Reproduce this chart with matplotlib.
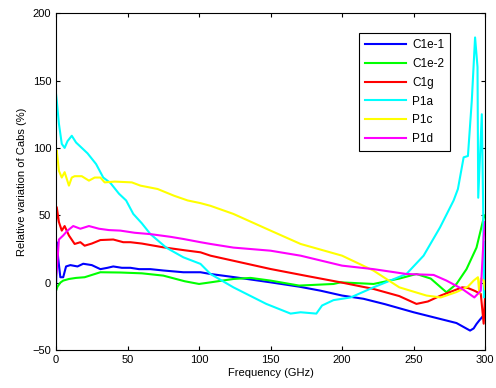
import matplotlib.pyplot as plt

plt.rcParams['font.family'] = ['Liberation Sans', 'DejaVu Sans']

# C1e-1 (blue)
f_c1e1 = [0, 0.5, 1.5, 3, 5, 7, 10, 15, 19, 25, 31, 36, 40, 46, 52, 58, 66, 75, 89, 101, 108, 125, 150, 170, 185, 200, 215, 230, 250, 265, 280, 289.5, 292, 294, 296, 298.8, 300]
v_c1e1 = [-5, 30, 18, 4, 4, 12, 13, 12, 14, 13, 10, 11, 12, 11, 11, 10, 10, 9, 7.7, 7.7, 6.4, 4, 0.2, -3, -6, -9.6, -12, -16, -22, -26, -30, -35.6, -34, -30.7, -28, -24.5, -20]
# C1e-2 (green)
f_c1e2 = [0, 1, 3, 5, 9, 14, 20, 31, 45, 60, 75, 90, 100, 108, 124, 136, 150, 170, 194, 199, 222, 240, 252, 262, 273, 280, 287, 294, 299, 300]
v_c1e2 = [-6, -3, 0, 1.5, 2.7, 3.5, 4, 7.7, 7.5, 6.9, 5.2, 1, -1, 0.2, 2.7, 3.5, 1.5, -2.2, -1, 0.2, -1, 3, 6.4, 3, -7.2, -1, 10, 26, 48, 50]
# C1g (red)
f_c1g = [0, 0.5, 2, 4, 6, 9, 13, 17, 20, 25, 31, 40, 47, 52, 60, 75, 90, 101, 108, 125, 150, 175, 199, 222, 240, 252, 260, 269, 284, 288, 292.5, 297, 299, 300]
v_c1g = [45, 56, 45, 38.6, 42, 35, 28.7, 30, 27.4, 29, 31.6, 32, 30, 30, 29, 26.2, 24, 22.5, 20, 16, 10.1, 5, 0.2, -4.7, -10, -15.8, -14, -9.6, -3.5, -4, -6, -8.4, -30.5, -10]
# P1a (cyan)
f_p1a = [0, 0.5, 2, 4, 6, 8, 11, 14, 18, 22, 28, 33, 38, 44, 49, 54, 60, 66, 77, 89, 101, 108, 124, 147, 164, 171, 182, 186, 194, 206, 222, 245, 257, 268.5, 278, 281, 285, 288, 290.7, 293, 294.7, 295.2, 297.7, 298.6, 299.2, 300]
v_p1a = [140, 135, 118, 103, 100, 105, 109, 104, 100, 96, 88, 78, 74, 66, 61, 51, 44, 36, 26, 18.8, 13.9, 6.4, -3.5, -15.8, -23, -22, -23, -17, -13, -11, -3.5, 6.4, 20, 41, 61, 69.5, 93, 94, 135, 182, 160, 63, 125, 61, -11, 30]
# P1c (yellow)
f_p1c = [0, 0.5, 2, 4, 6, 9, 11, 13, 18, 23, 27, 31, 34, 41, 53, 59, 71, 82.5, 92, 101, 108, 124, 150, 171, 200, 222, 240, 259, 269, 280, 288, 292, 295, 296, 297, 299, 300]
v_p1c = [95, 98, 83, 78, 82, 72, 78, 79, 79, 75.7, 78, 78, 74.4, 75, 74.4, 72, 69.5, 64.5, 61, 59, 57, 51, 38.6, 28.7, 20, 8.9, -3.5, -9.6, -11, -7, -3, 1.5, 4, -8.4, 3, 1.5, -5]
# P1d (magenta)
f_p1d = [0, 0.5, 2, 5, 8, 12, 17, 23, 30, 37, 45, 55, 66, 80, 89, 101, 108, 124, 150, 171, 200, 222, 245, 264, 273, 284, 292.5, 297, 299, 300]
v_p1d = [5, 8.9, 32, 35, 38.6, 42, 40, 42, 40, 39, 38.6, 37, 36, 34, 32.4, 30, 28.7, 26, 23.7, 20, 12.6, 10, 6.4, 5.7, 1.5, -4.7, -11, -6, 33.6, 45]

names = ['C1e-1', 'C1e-2', 'C1g', 'P1a', 'P1c', 'P1d']
colors = ['#0000ff', '#00ff00', '#ff0000', '#00ffff', '#ffff00', '#ff00ff']
freqs = [f_c1e1, f_c1e2, f_c1g, f_p1a, f_p1c, f_p1d]
vals = [v_c1e1, v_c1e2, v_c1g, v_p1a, v_p1c, v_p1d]

fig = plt.figure(figsize=(4.96, 3.88), dpi=100)
ax = fig.add_axes([0.113, 0.098, 0.865, 0.868])
for f, v, c, n in zip(freqs, vals, colors, names):
    ax.plot(f, v, color=c, lw=1.5, label=n)

ax.set_xlim(0, 300)
ax.set_ylim(-50, 200)
ax.set_xticks([0, 50, 100, 150, 200, 250, 300])
ax.set_yticks([-50, 0, 50, 100, 150, 200])
ax.tick_params(direction='in', top=True, right=True, labelsize=8, length=3)
ax.set_xlabel('Frequency (GHz)', fontsize=8, labelpad=2)
ax.set_ylabel('Relative variation of Cabs (%)', fontsize=8)
leg = ax.legend(loc='upper right', bbox_to_anchor=(0.918, 0.941), borderaxespad=0,
                fontsize=8.5, fancybox=False, edgecolor='black', framealpha=1,
                handlelength=3.5, handletextpad=0.5, labelspacing=0.58, borderpad=0.5)
leg.get_frame().set_linewidth(0.8)

fig.savefig('out.png', dpi=100)
